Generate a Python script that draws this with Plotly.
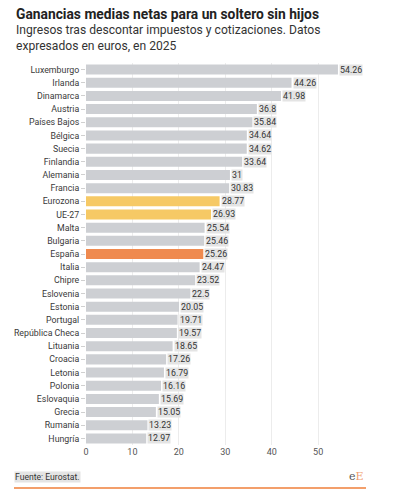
import plotly.graph_objects as go

countries = ["Luxemburgo", "Irlanda", "Dinamarca", "Austria", "Países Bajos", "Bélgica", "Suecia",
             "Finlandia", "Alemania", "Francia", "Eurozona", "UE-27", "Malta", "Bulgaria", "España",
             "Italia", "Chipre", "Eslovenia", "Estonia", "Portugal", "República Checa", "Lituania",
             "Croacia", "Letonia", "Polonia", "Eslovaquia", "Grecia", "Rumanía", "Hungría"]
values = [54.26, 44.26, 41.98, 36.8, 35.84, 34.64, 34.62, 33.64, 31, 30.83, 28.77, 26.93, 25.54,
          25.46, 25.26, 24.47, 23.52, 22.5, 20.05, 19.71, 19.57, 18.65, 17.26, 16.79, 16.16, 15.69,
          15.05, 13.23, 12.97]
labels = ["54.26", "44.26", "41.98", "36.8", "35.84", "34.64", "34.62", "33.64", "31", "30.83",
          "28.77", "26.93", "25.54", "25.46", "25.26", "24.47", "23.52", "22.5", "20.05", "19.71",
          "19.57", "18.65", "17.26", "16.79", "16.16", "15.69", "15.05", "13.23", "12.97"]
x_ticks = [0, 10, 20, 30, 40, 50]

GRAY = "#cdcfd3"
YELLOW = "#f6c965"
ORANGE = "#ef8a4f"
colors = [YELLOW if c in ("Eurozona", "UE-27") else ORANGE if c == "España" else GRAY for c in countries]

L, T, W, H = 86, 63, 280, 382

fig = go.Figure(go.Bar(
    x=values, y=countries, orientation="h",
    marker=dict(color=colors, line=dict(width=0)),
    hoverinfo="skip",
))

for c, v, t in zip(countries, values, labels):
    fig.add_annotation(x=v, y=c, text=t, showarrow=False, xanchor="left", xshift=1,
                       bgcolor="#e4e4e4", borderpad=0,
                       font=dict(family="Roboto", size=8.8, color="#333333"))

fig.update_layout(
    width=404, height=499,
    margin=dict(l=L, r=404 - L - W, t=T, b=499 - T - H),
    paper_bgcolor="white", plot_bgcolor="white",
    bargap=0.24,
    showlegend=False,
    font=dict(family="Roboto", color="#333333"),
    xaxis=dict(range=[0, 60.3], tickvals=x_ticks, showgrid=True, gridcolor="#ececec", gridwidth=1,
               zeroline=False, showline=False, ticks="", tickfont=dict(size=9, color="#555555"),
               fixedrange=True, automargin=False),
    yaxis=dict(categoryorder="array", categoryarray=countries[::-1], ticks="outside", ticklen=4,
               tickcolor="#d0d0d0", tickfont=dict(size=8.8, color="#3a3a3a"), showline=False,
               fixedrange=True, automargin=False),
)

def px(x):
    return (x - L) / W

def py(y):
    return 1 - (y - T) / H

fig.add_annotation(xref="paper", yref="paper", x=px(14), y=py(14), xanchor="left", yanchor="middle",
                   text="<b>Ganancias medias netas para un soltero sin hijos</b>", showarrow=False,
                   font=dict(family="Roboto", size=13.8, color="#222222"))
fig.add_annotation(xref="paper", yref="paper", x=px(14), y=py(37.5), xanchor="left", yanchor="middle",
                   text="Ingresos tras descontar impuestos y cotizaciones. Datos<br>expresados en euros, en 2025",
                   showarrow=False, align="left",
                   font=dict(family="Roboto", size=12.1, color="#333333"))
fig.add_annotation(xref="paper", yref="paper", x=px(14), y=py(477), xanchor="left", yanchor="middle",
                   text="Fuente: Eurostat.", showarrow=False, bgcolor="#e4e4e4", borderpad=0,
                   font=dict(family="Roboto", size=8.6, color="#333333"))
fig.add_annotation(xref="paper", yref="paper", x=px(366), y=py(476), xanchor="right", yanchor="middle",
                   text="<span style='color:#555555'>e</span><span style='color:#f0a070'>E</span>",
                   showarrow=False, font=dict(family="DejaVu Serif", size=11))
fig.add_shape(type="line", xref="paper", yref="paper", x0=px(14), x1=px(366), y0=py(488), y1=py(488),
              line=dict(color="#ef7f3a", width=1.5))

fig.write_html("out.html", config={"displayModeBar": False},
               post_script="document.body.style.margin='0';")
